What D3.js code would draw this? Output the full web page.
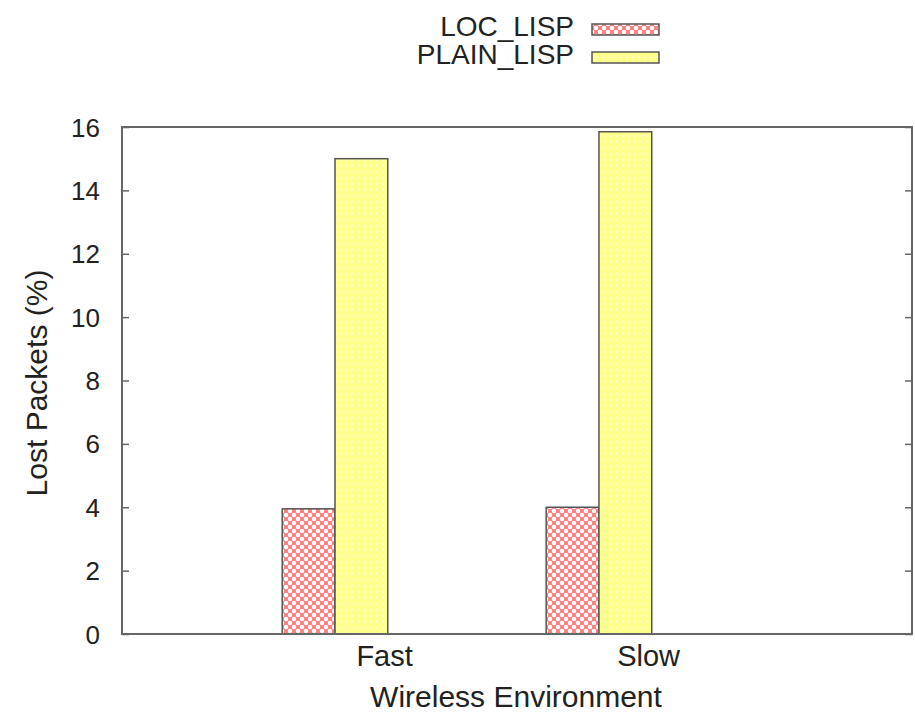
<!DOCTYPE html>
<meta charset="utf-8">
<style>
  body { margin: 0; background: #fff; }
  text { font-family: "Liberation Sans", Arial, sans-serif; fill: #222; }
</style>
<div id="chart"></div>
<script src="https://d3js.org/d3.v7.min.js"></script>
<script>

// data
var categories = ["Fast", "Slow"];
var series = ["LOC_LISP", "PLAIN_LISP"];
var locValues = [3.95, 4.0];
var plainValues = [15.0, 15.85];
var yTicks = [0, 2, 4, 6, 8, 10, 12, 14, 16];

var W = 915, H = 716;
var margin = {top: 127, right: 3, bottom: 82, left: 122};
var width = W - margin.left - margin.right,
    height = H - margin.top - margin.bottom;

var svg = d3.select("#chart").append("svg")
    .attr("width", W)
    .attr("height", H);

var defs = svg.append("defs");

// red checker pattern
var pr = defs.append("pattern")
    .attr("id", "pRed")
    .attr("patternUnits", "userSpaceOnUse")
    .attr("width", 8).attr("height", 8);
pr.append("rect").attr("width", 8).attr("height", 8).attr("fill", "#ff7a7a");
[[0, 0], [8, 0], [0, 8], [8, 8], [4, 4]].forEach(function(p) {
  pr.append("circle").attr("cx", p[0]).attr("cy", p[1]).attr("r", 2.3).attr("fill", "#fff");
});

// yellow faint dots
var py = defs.append("pattern")
    .attr("id", "pYel")
    .attr("patternUnits", "userSpaceOnUse")
    .attr("width", 6).attr("height", 6);
py.append("rect").attr("width", 6).attr("height", 6).attr("fill", "#ffff8c");
py.append("circle").attr("cx", 3).attr("cy", 3).attr("r", 1.4).attr("fill", "#ffffb8");

var fills = ["url(#pRed)", "url(#pYel)"];
var valuesBySeries = [locValues, plainValues];

var g = svg.append("g")
    .attr("transform", "translate(" + margin.left + "," + margin.top + ")");

// x: category index, y: percentage
var x = d3.scaleLinear().domain([-0.807, 2.186]).range([0, width]);
var y = d3.scaleLinear().domain([0, 16]).range([height, 0]);
var barW = 0.2;
var labelShift = 0.186;

// bars
series.forEach(function(s, si) {
  g.selectAll(".bar" + si)
    .data(valuesBySeries[si])
    .enter().append("rect")
      .attr("x", function(d, i) { return x(i + (si - 1) * barW); })
      .attr("y", function(d) { return y(d); })
      .attr("width", x(barW) - x(0))
      .attr("height", function(d) { return height - y(d); })
      .attr("fill", fills[si])
      .attr("stroke", "#555")
      .attr("stroke-width", 1.5);
});

// frame
g.append("rect")
    .attr("width", width).attr("height", height)
    .attr("fill", "none")
    .attr("stroke", "#666")
    .attr("stroke-width", 2);

// y ticks left + right, inward
var yl = g.append("g").call(d3.axisLeft(y).tickValues(yTicks).tickSize(-7).tickPadding(22).tickFormat(d3.format("d")));
yl.select(".domain").remove();
yl.selectAll("line").attr("stroke", "#666").attr("stroke-width", 1.5);
yl.selectAll("text").style("font-size", "26px").attr("dy", "0.35em");

var yr = g.append("g").attr("transform", "translate(" + width + ",0)")
    .call(d3.axisRight(y).tickValues(yTicks).tickSize(-7).tickFormat(""));
yr.select(".domain").remove();
yr.selectAll("line").attr("stroke", "#666").attr("stroke-width", 1.5);

// x labels
var xa = g.append("g").attr("transform", "translate(0," + height + ")")
    .call(d3.axisBottom(x)
      .tickValues(categories.map(function(c, i) { return i + labelShift; }))
      .tickFormat(function(d, i) { return categories[i]; })
      .tickSize(0).tickPadding(11));
xa.select(".domain").remove();
xa.selectAll("text").style("font-size", "29px");

// axis titles
svg.append("text")
    .attr("x", 516).attr("y", 707)
    .attr("text-anchor", "middle")
    .style("font-size", "30px")
    .text("Wireless Environment");

svg.append("text")
    .attr("transform", "translate(47,383) rotate(-90)")
    .attr("text-anchor", "middle")
    .style("font-size", "30px")
    .text("Lost Packets (%)");

// legend
var legend = svg.append("g");
series.forEach(function(s, si) {
  legend.append("text")
    .attr("x", 574).attr("y", 36 + si * 28)
    .attr("text-anchor", "end")
    .style("font-size", "28px")
    .text(s);
  legend.append("rect")
    .attr("x", 592).attr("y", 24 + si * 28)
    .attr("width", 67).attr("height", 11)
    .attr("fill", fills[si])
    .attr("stroke", "#555")
    .attr("stroke-width", 1.5);
});

</script>
